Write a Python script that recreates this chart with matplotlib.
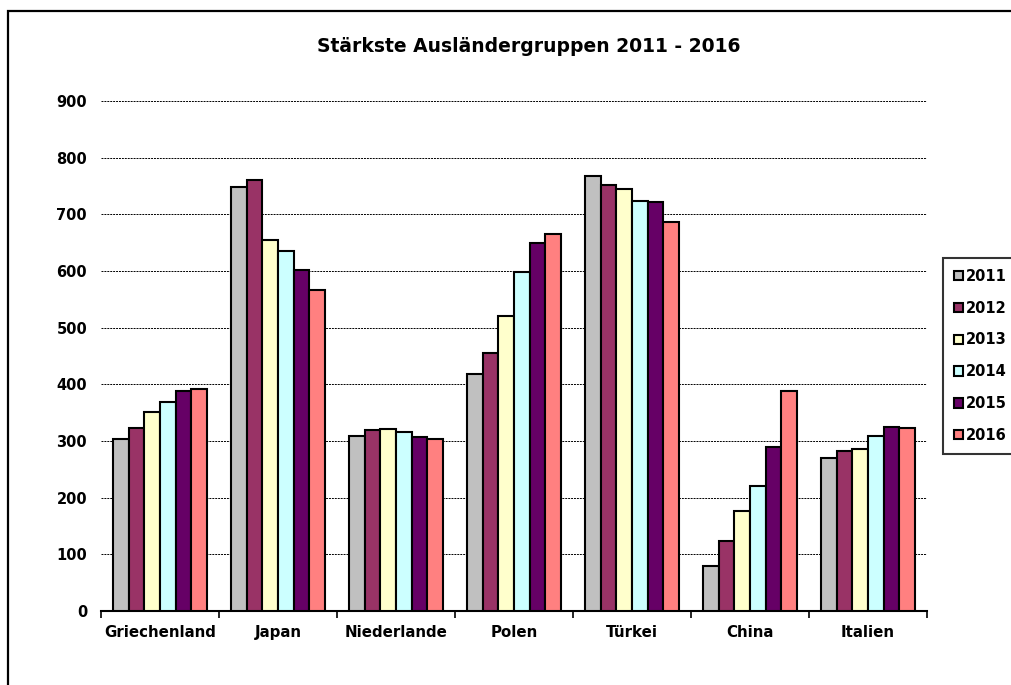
import numpy as np
import matplotlib
matplotlib.use("Agg")
import matplotlib.pyplot as plt
from matplotlib.patches import Rectangle

plt.rcParams['font.family'] = ['DejaVu Sans']

laender = ['Griechenland', 'Japan', 'Niederlande', 'Polen', 'Türkei', 'China', 'Italien']
jahre = ['2011', '2012', '2013', '2014', '2015', '2016']

w2011 = [304, 748, 308, 418, 768, 79, 270]
w2012 = [323, 761, 319, 455, 752, 124, 282]
w2013 = [352, 655, 321, 521, 744, 176, 286]
w2014 = [369, 635, 316, 599, 724, 220, 309]
w2015 = [389, 602, 307, 650, 722, 289, 324]
w2016 = [391, 567, 304, 666, 686, 388, 323]
werte = [w2011, w2012, w2013, w2014, w2015, w2016]

farben = ['#C0C0C0', '#993366', '#FFFFCC', '#CCFFFF', '#660066', '#FF8080']

fig = plt.figure(figsize=(10.11, 6.85), dpi=100)
ax = fig.add_axes([101/1011, 1-611/685, (927-101)/1011, (611-101)/685])

# rahmen um das ganze diagramm (rechts/unten abgeschnitten)
fig.patches.append(Rectangle((8/1011, -0.2), 1.2, 1.2 - 11/685, transform=fig.transFigure,
                             fill=False, edgecolor='black', linewidth=1.6, clip_on=False))

x = np.arange(len(laender))
bw = 0.8 / 6
for i, jahr in enumerate(jahre):
    ax.bar(x - 0.4 + bw*(i+0.5), werte[i], bw, color=farben[i], edgecolor='black',
           linewidth=1.5, label=jahr, zorder=3)

ax.set_xlim(-0.5, len(laender)-0.5)
ax.set_ylim(0, 900)
ax.set_yticks(range(0, 901, 100))
ax.yaxis.grid(True, color='black', linestyle=(0, (2, 1)), linewidth=0.7, zorder=0)
ax.tick_params(axis='y', length=0, pad=10, labelsize=10.5)
for lbl in ax.get_yticklabels():
    lbl.set_fontweight('bold')

ax.set_xticks(x)
ax.set_xticklabels(laender, fontweight='bold', fontsize=10.8)
ax.set_xticks(np.arange(-0.5, len(laender)), minor=True)
ax.tick_params(axis='x', which='major', length=0, pad=10)
ax.tick_params(axis='x', which='minor', length=5, width=1.2, direction='out')

for s in ['top', 'right', 'left']:
    ax.spines[s].set_visible(False)
ax.spines['bottom'].set_linewidth(1.5)

fig.text(0.523, 1-47/685, 'Stärkste Ausländergruppen 2011 - 2016', ha='center', va='center',
         fontsize=13.5, fontweight='bold')

leg = fig.legend(loc='upper left', bbox_to_anchor=(943/1011, 1-258/685), frameon=True,
                 fancybox=False, edgecolor='black', handlelength=0.6, handleheight=0.6,
                 handletextpad=0.2, labelspacing=1.15, borderpad=0.75, borderaxespad=0,
                 prop={'weight': 'bold', 'size': 10.5})
leg.get_frame().set_linewidth(1.5)

fig.savefig('out.png', dpi=100)
